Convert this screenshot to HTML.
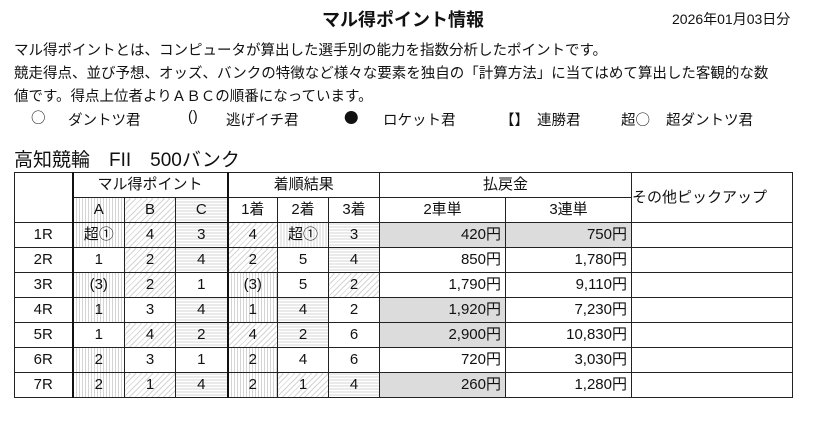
<!DOCTYPE html>
<html><head><meta charset="utf-8"><style>
body{margin:0;width:820px;height:422px;background:#fff;font-family:"Liberation Sans","Noto Sans CJK JP",sans-serif;color:#111;position:relative;overflow:hidden}
.a{position:absolute;white-space:nowrap}
.j{font-family:"Noto Sans CJK JP",sans-serif}
table{position:absolute;left:14px;top:172px;border-collapse:collapse;table-layout:fixed;font-size:15px}
td{border:1px solid #222;text-align:center;padding:0;height:24px;line-height:22px}
.r{text-align:right;padding-right:4px}
.g{background:#dcdcdc}
.V{background:repeating-linear-gradient(90deg,#fff 0 2px,#d4d4d4 2px 3px)}
.D{background:repeating-linear-gradient(135deg,#fff 0 3px,#d4d4d4 3px 4px)}
.H{background:repeating-linear-gradient(0deg,#fff 0 2px,#d4d4d4 2px 3px)}
.tl{border-left:2px solid #111}
</style></head><body>
<div class="a" style="left:322px;top:6px;font-size:18px;font-weight:bold">マル得ポイント情報</div>
<div class="a" style="left:672px;top:9px;font-size:14px">2026年01月03日分</div>
<div class="a" style="left:14px;top:40px;font-size:14.5px;line-height:23px">マル得ポイントとは、コンピュータが算出した選手別の能力を指数分析したポイントです。<br>競走得点、並び予想、オッズ、バンクの特徴など様々な要素を独自の「計算方法」に当てはめて算出した客観的な数<br>値です。得点上位者よりＡＢＣの順番になっています。</div>
<div class="a j" style="left:31px;top:107px;font-size:14.5px">○</div>
<div class="a" style="left:68px;top:109px;font-size:14.5px">ダントツ君</div>
<div class="a" style="left:188px;top:109px;font-size:14.5px">()</div>
<div class="a" style="left:226px;top:109px;font-size:14.5px">逃げイチ君</div>
<div class="a j" style="left:344px;top:107px;font-size:14.5px">●</div>
<div class="a" style="left:383px;top:109px;font-size:14.5px">ロケット君</div>
<div class="a" style="left:500px;top:109px;font-size:14.5px">【】</div>
<div class="a" style="left:537px;top:109px;font-size:14.5px">連勝君</div>
<div class="a" style="left:621px;top:109px;font-size:14.5px">超<span class="j">○</span></div>
<div class="a" style="left:666px;top:109px;font-size:14.5px">超ダントツ君</div>
<div class="a" style="left:14px;top:145px;font-size:19px">高知競輪　FII　500バンク</div>
<table>
<colgroup><col style="width:58px"><col style="width:52px"><col style="width:51px"><col style="width:52px"><col style="width:50px"><col style="width:51px"><col style="width:51px"><col style="width:126px"><col style="width:126px"><col style="width:161px"></colgroup>
<tr><td rowspan="2" style="height:44px"></td><td colspan="3" class="tl">マル得ポイント</td><td colspan="3" class="tl">着順結果</td><td colspan="2">払戻金</td><td rowspan="2" style="text-align:left">その他ピックアップ</td></tr>
<tr><td class="V tl" style="height:20px">A</td><td class="D">B</td><td class="H">C</td><td class="tl">1着</td><td>2着</td><td>3着</td><td>2車単</td><td>3連単</td></tr>
<tr><td>1R</td><td class="V tl">超①</td><td class="D">4</td><td class="H">3</td><td class="D tl">4</td><td class="V">超①</td><td class="H">3</td><td class="r g">420円</td><td class="r g">750円</td><td></td></tr>
<tr><td>2R</td><td class="tl">1</td><td class="D">2</td><td class="H">4</td><td class="D tl">2</td><td>5</td><td class="H">4</td><td class="r">850円</td><td class="r">1,780円</td><td></td></tr>
<tr><td>3R</td><td class="V tl">(3)</td><td class="D">2</td><td>1</td><td class="V tl">(3)</td><td>5</td><td class="D">2</td><td class="r">1,790円</td><td class="r">9,110円</td><td></td></tr>
<tr><td>4R</td><td class="V tl">1</td><td>3</td><td class="H">4</td><td class="V tl">1</td><td class="H">4</td><td>2</td><td class="r g">1,920円</td><td class="r">7,230円</td><td></td></tr>
<tr><td>5R</td><td class="tl">1</td><td class="D">4</td><td class="H">2</td><td class="D tl">4</td><td class="H">2</td><td>6</td><td class="r g">2,900円</td><td class="r">10,830円</td><td></td></tr>
<tr><td>6R</td><td class="V tl">2</td><td>3</td><td>1</td><td class="V tl">2</td><td>4</td><td>6</td><td class="r">720円</td><td class="r">3,030円</td><td></td></tr>
<tr><td>7R</td><td class="V tl">2</td><td class="D">1</td><td class="H">4</td><td class="V tl">2</td><td class="D">1</td><td class="H">4</td><td class="r g">260円</td><td class="r">1,280円</td><td></td></tr>
</table>
</body></html>
